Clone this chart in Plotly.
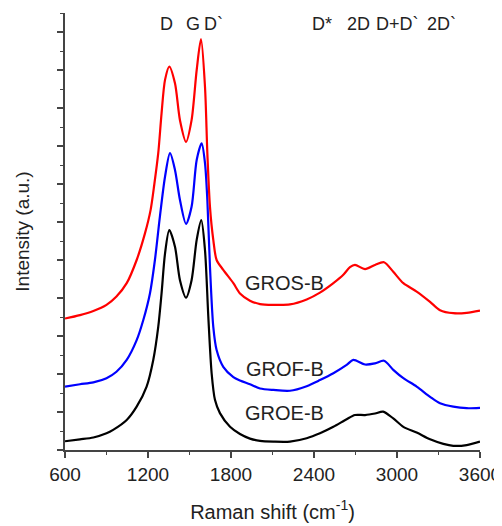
import plotly.graph_objects as go

# Raman spectra (y in arbitrary units, offset curves)
x_groe = [600, 708, 805, 900, 948, 1046, 1118, 1190, 1238, 1274, 1298, 1323, 1354, 1395,
          1431, 1475, 1515, 1552, 1585, 1612, 1636, 1660, 1684, 1720, 1793, 1865, 1937,
          2010, 2106, 2226, 2347, 2443, 2540, 2636, 2696, 2769, 2841, 2900, 2973, 3046,
          3142, 3239, 3335, 3407, 3504, 3600]
y_groe = [0.23, 0.28, 0.33, 0.44, 0.53, 0.79, 1.14, 1.67, 2.37, 3.24, 4.12, 5.17, 5.79, 5.35,
          4.47, 4.01, 4.47, 5.53, 6.05, 5.26, 3.51, 2.02, 1.32, 0.97, 0.61, 0.42, 0.30,
          0.24, 0.22, 0.22, 0.31, 0.44, 0.61, 0.81, 0.92, 0.92, 0.96, 1.01, 0.83, 0.61,
          0.46, 0.28, 0.16, 0.11, 0.13, 0.22]

x_grof = [600, 708, 805, 900, 972, 1046, 1118, 1166, 1214, 1250, 1286, 1323, 1359, 1395,
          1431, 1475, 1515, 1552, 1588, 1612, 1629, 1648, 1672, 1696, 1744, 1817, 1865,
          1937, 2010, 2106, 2226, 2347, 2443, 2540, 2636, 2684, 2769, 2841, 2906, 2973,
          3046, 3142, 3239, 3311, 3407, 3504, 3600]
y_grof = [1.67, 1.73, 1.78, 1.89, 2.06, 2.37, 2.89, 3.42, 4.12, 5.00, 6.14, 7.19, 7.81, 7.37,
          6.58, 5.95, 6.40, 7.63, 8.07, 7.55, 6.58, 4.82, 3.24, 2.63, 2.19, 1.92, 1.83,
          1.73, 1.62, 1.58, 1.56, 1.68, 1.84, 2.02, 2.24, 2.37, 2.25, 2.28, 2.35, 2.11,
          1.89, 1.67, 1.40, 1.23, 1.14, 1.10, 1.11]

x_gros = [600, 708, 805, 900, 972, 1046, 1118, 1178, 1219, 1246, 1274, 1298, 1323, 1354,
          1395, 1431, 1475, 1515, 1552, 1583, 1612, 1629, 1648, 1672, 1696, 1744, 1817,
          1865, 1937, 2010, 2106, 2226, 2347, 2443, 2540, 2612, 2660, 2696, 2769, 2841,
          2906, 2973, 3046, 3142, 3239, 3311, 3407, 3504, 3600]
y_gros = [3.46, 3.55, 3.66, 3.82, 4.04, 4.39, 5.00, 5.70, 6.32, 7.00, 7.81, 8.86, 9.74, 10.09,
          9.65, 8.68, 8.11, 8.68, 10.00, 10.81, 9.56, 7.81, 6.40, 5.53, 5.00, 4.74, 4.39,
          4.12, 3.93, 3.84, 3.82, 3.83, 3.96, 4.14, 4.39, 4.61, 4.81, 4.87, 4.76, 4.87,
          4.94, 4.69, 4.39, 4.17, 3.90, 3.68, 3.60, 3.61, 3.67]

sample_names = ["GROE-B", "GROF-B", "GROS-B"]
sample_label_y = [0.97, 2.13, 4.39]
band_names = ["D", "G", "D`", "D*", "2D", "D+D`", "2D`"]
band_pos = [1337, 1522, 1672, 2458, 2722, 3003, 3325]

FONT = "Liberation Sans, Arial, sans-serif"

fig = go.Figure()
for xs, ys, col in [(x_groe, y_groe, "black"), (x_grof, y_grof, "#0000ff"), (x_gros, y_gros, "#ff0000")]:
    fig.add_trace(go.Scatter(x=xs, y=ys, mode="lines",
                             line=dict(color=col, width=2.2, shape="spline", smoothing=0.8),
                             showlegend=False))

for name, yy in zip(sample_names, sample_label_y):
    fig.add_annotation(x=2190, y=yy, text=name, showarrow=False,
                       font=dict(size=20, color="#222", family=FONT))

for name, xx in zip(band_names, band_pos):
    fig.add_annotation(x=xx, y=11.22, text=name, showarrow=False,
                       font=dict(size=18, color="#222", family=FONT))

axis_col = "#444"
fig.update_xaxes(range=[600, 3600], tickvals=[600, 1200, 1800, 2400, 3000, 3600],
                 ticks="outside", ticklen=6, tickwidth=1.5, tickcolor=axis_col,
                 minor=dict(dtick=300, ticks="outside", ticklen=3, tickwidth=1.2, tickcolor=axis_col),
                 showline=True, linecolor=axis_col, linewidth=1.8, showgrid=False, zeroline=False,
                 automargin=False, ticklabeloverflow="allow",
                 tickfont=dict(size=19, color="#222", family=FONT),
                 title=dict(text="Raman shift (cm<sup>-1</sup>)",
                            font=dict(size=20, color="#222", family=FONT), standoff=21))
fig.update_yaxes(range=[0, 11.5], dtick=1, tick0=0, showticklabels=False,
                 ticks="outside", ticklen=6, tickwidth=1.5, tickcolor=axis_col,
                 minor=dict(dtick=0.5, ticks="outside", ticklen=3, tickwidth=1.2, tickcolor=axis_col),
                 showline=True, linecolor=axis_col, linewidth=1.8, showgrid=False, zeroline=False,
                 automargin=False,
                 title=dict(text="Intensity (a.u.)", font=dict(size=19, color="#222", family=FONT), standoff=22))

# page body adds ~8px offset, so the figure is a bit smaller than the window
fig.update_layout(width=494, height=518, margin=dict(l=57, r=22, t=5, b=76),
                  plot_bgcolor="white", paper_bgcolor="white")

fig.write_html("out.html")
